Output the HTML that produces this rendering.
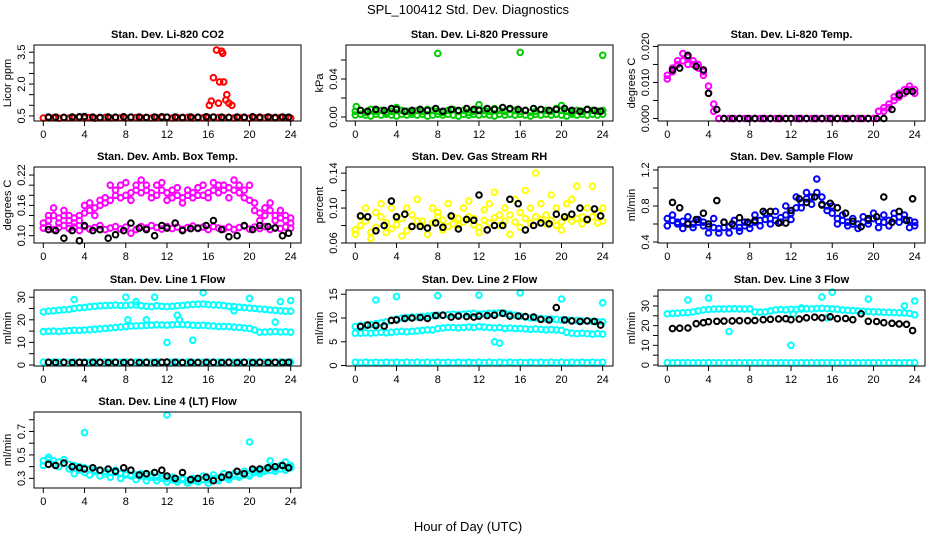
<!DOCTYPE html>
<html><head><meta charset="utf-8"><style>
body{margin:0;background:#fff}
svg{display:block;font-family:"Liberation Sans",sans-serif}
</style></head><body>
<svg id="c" width="936" height="540" viewBox="0 0 936 540">
<rect width="936" height="540" fill="#fff"/>
<text x="468" y="14" text-anchor="middle" font-size="13">SPL_100412  Std. Dev. Diagnostics</text>
<text x="468" y="531" text-anchor="middle" font-size="13">Hour of Day (UTC)</text>
</svg>
<script>
const HALF=[0,0.5,1,1.5,2,2.5,3,3.5,4,4.5,5,5.5,6,6.5,7,7.5,8,8.5,9,9.5,10,10.5,11,11.5,12,12.5,13,13.5,14,14.5,15,15.5,16,16.5,17,17.5,18,18.5,19,19.5,20,20.5,21,21.5,22,22.5,23,23.5,24];
const HOURLY=[0.5,1.2,2,2.8,3.5,4,4.8,5.5,6.3,7,7.8,8.5,9.3,10,10.8,11.5,12,12.8,13.5,14.3,15,15.8,16.5,17.3,18,18.8,19.5,20.3,21,21.8,22.5,23.2,23.8];
const X_TICKS=[0,4,8,12,16,20,24];

const co2Red=[0.40,0.42,0.41,0.39,0.43,0.40,0.41,0.44,0.40,0.42,0.39,0.41,0.43,0.40,0.42,0.41,0.40,0.44,0.42,0.41,0.43,0.40,0.42,0.41,0.44,0.40,0.42,0.41,0.43,0.40,0.42,0.41,0.43,0.44,0.42,0.41,0.43,0.40,0.42,0.41,0.39,0.42,0.40,0.41,0.43,0.40,0.42,0.41,0.39];
const co2OutH=[16.1,16.3,16.5,16.8,17.0,17.1,17.3,17.4,17.5,17.7,17.8,18.0,18.3];
const co2OutV=[1.0,1.2,2.3,3.6,1.1,2.1,3.55,3.45,2.1,1.25,1.5,1.1,1.0];
const co2Black=[0.45,0.44,0.43,0.45,0.46,0.47,0.44,0.43,0.45,0.44,0.46,0.44,0.45,0.43,0.45,0.46,0.44,0.45,0.43,0.45,0.44,0.46,0.45,0.44,0.43,0.45,0.44,0.46,0.44,0.45,0.43,0.45,0.44];
const presG1=[0.006,0.007,0.005,0.008,0.006,0.007,0.005,0.006,0.009,0.007,0.006,0.005,0.007,0.006,0.008,0.007,0.006,0.005,0.007,0.008,0.006,0.007,0.005,0.006,0.008,0.007,0.006,0.009,0.007,0.006,0.008,0.007,0.006,0.007,0.005,0.006,0.008,0.007,0.006,0.009,0.007,0.006,0.005,0.007,0.006,0.008,0.007,0.006,0.007];
const presG2=[0.002,0.003,0.002,0.001,0.003,0.002,0.003,0.002,0.001,0.003,0.002,0.003,0.002,0.003,0.001,0.002,0.003,0.002,0.003,0.002,0.001,0.003,0.002,0.003,0.002,0.003,0.002,0.001,0.003,0.002,0.003,0.002,0.003,0.002,0.001,0.003,0.002,0.003,0.002,0.003,0.002,0.001,0.003,0.002,0.003,0.002,0.003,0.002,0.003];
const presOutH=[0.1,4,8,12,16,20,24];
const presOutV=[0.011,0.010,0.067,0.013,0.068,0.012,0.065];
const presBlack=[0.007,0.006,0.008,0.007,0.009,0.008,0.006,0.007,0.008,0.007,0.009,0.006,0.008,0.007,0.009,0.008,0.007,0.009,0.008,0.010,0.009,0.008,0.007,0.009,0.008,0.007,0.008,0.009,0.007,0.006,0.008,0.007,0.006];
const tempM1=[0.012,0.014,0.016,0.018,0.017,0.016,0.015,0.013,0.009,0.004,0,0,0,0,0,0,0,0,0,0,0,0,0,0,0,0,0,0,0,0,0,0,0,0,0,0,0,0,0,0,0,0.002,0.003,0.004,0.006,0.007,0.008,0.009,0.008];
const tempM2=[0.011,0.013,0.015,0.016,0.015,0.015,0.014,0.012,0.007,0.002,0,0,0,0,0,0,0,0,0,0,0,0,0,0,0,0,0,0,0,0,0,0,0,0,0,0,0,0,0,0,0,0.002,0.002,0.003,0.005,0.006,0.007,0.008,0.007];
const tempBlack=[0.0135,0.014,0.0175,0.0145,0.0135,0.007,0.0025,0,0,0,0,0,0,0,0,0,0,0,0,0,0,0,0,0,0,0,0,0,0,0.0025,0.0065,0.0075,0.0075];
const ambU1=[0.125,0.13,0.14,0.135,0.14,0.13,0.135,0.14,0.145,0.15,0.155,0.16,0.165,0.17,0.18,0.175,0.18,0.185,0.19,0.185,0.19,0.185,0.18,0.19,0.185,0.175,0.18,0.175,0.18,0.185,0.18,0.18,0.185,0.19,0.185,0.19,0.195,0.19,0.185,0.175,0.17,0.15,0.145,0.14,0.15,0.14,0.135,0.13,0.125];
const ambU2=[0.115,0.14,0.155,0.125,0.15,0.14,0.125,0.13,0.16,0.165,0.14,0.17,0.175,0.2,0.19,0.2,0.205,0.17,0.2,0.21,0.2,0.175,0.2,0.205,0.17,0.19,0.195,0.165,0.19,0.175,0.195,0.2,0.175,0.205,0.2,0.2,0.175,0.21,0.2,0.19,0.2,0.165,0.13,0.155,0.165,0.13,0.15,0.14,0.135];
const ambL=[0.115,0.118,0.112,0.116,0.12,0.114,0.117,0.11,0.118,0.113,0.116,0.12,0.112,0.115,0.118,0.113,0.117,0.105,0.112,0.118,0.115,0.12,0.116,0.113,0.118,0.114,0.117,0.112,0.116,0.119,0.114,0.117,0.112,0.118,0.115,0.113,0.117,0.112,0.116,0.119,0.113,0.117,0.114,0.118,0.112,0.116,0.114,0.117,0.115];
const ambBlack=[0.112,0.11,0.095,0.11,0.09,0.12,0.11,0.112,0.095,0.102,0.11,0.125,0.115,0.112,0.1,0.12,0.115,0.125,0.11,0.114,0.115,0.12,0.13,0.112,0.098,0.1,0.12,0.112,0.12,0.118,0.115,0.1,0.105];
const rhY1=[0.075,0.08,0.085,0.072,0.078,0.09,0.083,0.076,0.081,0.088,0.074,0.079,0.085,0.08,0.077,0.083,0.09,0.086,0.079,0.082,0.088,0.084,0.09,0.081,0.078,0.086,0.083,0.089,0.08,0.085,0.092,0.084,0.078,0.088,0.083,0.09,0.087,0.082,0.086,0.08,0.084,0.09,0.085,0.088,0.082,0.086,0.09,0.083,0.085];
const rhY2=[0.07,0.09,0.1,0.065,0.095,0.105,0.072,0.1,0.088,0.068,0.1,0.092,0.11,0.085,0.07,0.1,0.095,0.075,0.105,0.09,0.08,0.1,0.108,0.088,0.072,0.098,0.105,0.118,0.092,0.1,0.07,0.11,0.095,0.12,0.1,0.14,0.105,0.092,0.115,0.1,0.075,0.105,0.11,0.125,0.09,0.1,0.125,0.095,0.1];
const rhBlack=[0.091,0.09,0.074,0.08,0.108,0.09,0.093,0.079,0.079,0.077,0.083,0.078,0.091,0.076,0.087,0.086,0.115,0.075,0.08,0.08,0.11,0.105,0.075,0.08,0.083,0.082,0.093,0.09,0.093,0.1,0.087,0.099,0.091];
const flowB1=[0.66,0.64,0.62,0.63,0.61,0.6,0.62,0.58,0.57,0.56,0.55,0.56,0.57,0.58,0.56,0.58,0.6,0.62,0.64,0.65,0.66,0.64,0.67,0.7,0.72,0.78,0.84,0.88,0.9,0.95,0.82,0.8,0.72,0.66,0.64,0.62,0.6,0.6,0.62,0.64,0.66,0.63,0.62,0.64,0.66,0.68,0.65,0.64,0.62];
const flowB2=[0.58,0.7,0.6,0.55,0.68,0.56,0.65,0.62,0.5,0.66,0.5,0.62,0.5,0.64,0.52,0.62,0.55,0.7,0.58,0.72,0.6,0.74,0.62,0.8,0.65,0.9,0.78,0.95,0.82,1.1,0.9,0.75,0.8,0.6,0.7,0.58,0.66,0.55,0.68,0.6,0.72,0.56,0.7,0.58,0.72,0.62,0.7,0.56,0.58];
const flowBlack=[0.84,0.78,0.6,0.65,0.72,0.6,0.86,0.62,0.6,0.67,0.62,0.64,0.74,0.74,0.61,0.61,0.75,0.88,0.84,0.9,0.81,0.83,0.78,0.72,0.63,0.57,0.66,0.68,0.9,0.62,0.74,0.64,0.88];
const l1U=[23.5,23.8,24,24.2,24.5,24.6,25,25.3,25.5,25.8,26,26.2,26.3,26.4,26.5,26.3,26.4,26.5,26.6,26.2,26,25.8,26.2,26,25.8,26,26.2,26.4,26.6,26.8,26.9,27,26.8,26.6,26.5,26.3,26,25.8,25.6,25.4,25.2,25,24.8,24.6,24.4,24.2,24,23.8,23.8];
const l1M=[14.8,14.9,15,14.8,15,15.2,15.4,15.3,15.5,15.6,15.8,16,16.2,16.4,16.6,16.8,17,17.2,17.3,17.4,17.5,17.6,17.8,17.7,17.6,17.8,18,17.9,17.8,17.6,17.5,17.6,17.4,17.2,17,17.1,17,16.8,16.6,16.4,16.2,15.5,14.5,14.6,14.7,14.8,14.6,14.7,14.5];
const l1L=[1.3,1.2,1.3,1.2,1.3,1.2,1.3,1.2,1.3,1.2,1.3,1.2,1.3,1.2,1.3,1.2,1.3,1.2,1.3,1.2,1.3,1.2,1.3,1.2,1.3,1.2,1.3,1.2,1.3,1.2,1.3,1.2,1.3,1.2,1.3,1.2,1.3,1.2,1.3,1.2,1.3,1.2,1.3,1.2,1.3,1.2,1.3,1.2,1.3];
const l1OutH=[3,8,8.2,9,10,10.8,12,13,13.2,14.5,15.5,18.5,20,22.5,23,24];
const l1OutV=[29,30,20,28,20,30,10,22,20,11,32,24,29.5,19,28,28.5];
const l1Black=[1.2,1.1,1.2,1.1,1.2,1.1,1.2,1.2,1.1,1.2,1.1,1.2,1.1,1.2,1.1,1.2,1.3,1.2,1.1,1.2,1.1,1.2,1.2,1.1,1.2,1.1,1.2,1.1,1.2,1.1,1.2,1.1,1.2];
const l2U=[8.2,8.4,8.5,8.6,8.8,9,9.2,9.5,9.8,10,10.1,10.2,10.2,10.3,10.4,10.5,10.6,10.6,10.7,10.8,10.7,10.8,10.9,11,10.8,10.9,11,11,11.1,11,10.8,10.6,10.4,10.2,10,10,9.9,9.8,9.8,9.7,9.6,9.6,9.5,9.5,9.4,9.4,9.3,9.2,9.2];
const l2M=[6.8,6.8,6.9,6.8,6.9,7,6.9,7,7.1,7.2,7.1,7.2,7.3,7.4,7.5,7.5,7.8,7.9,8,8,7.9,8,8.1,8,8.2,8.1,8,7.9,8,7.8,7.9,7.8,7.8,7.7,7.6,7.7,7.6,7.5,7.6,7.5,7.4,7,6.8,6.7,6.8,6.7,6.6,6.7,6.6];
const l2L=[0.7,0.6,0.7,0.6,0.7,0.6,0.7,0.6,0.7,0.6,0.7,0.6,0.7,0.6,0.7,0.6,0.7,0.6,0.7,0.6,0.7,0.6,0.7,0.6,0.7,0.6,0.7,0.6,0.7,0.6,0.7,0.6,0.7,0.6,0.7,0.6,0.7,0.6,0.7,0.6,0.7,0.6,0.7,0.6,0.7,0.6,0.7,0.6,0.7];
const l2OutH=[2,4,8,12,13.5,14,16,20,24];
const l2OutV=[13.8,14.5,14.7,14.8,5,4.7,15.3,14,13.2];
const l2Black=[8.2,8.5,8.4,8.3,9.5,9.6,9.9,10,10.1,9.9,10.5,10.6,10.2,10.4,10.3,10.2,10.4,10.5,10.6,11,10.4,10.4,10.3,10.2,9.7,9.6,12.2,9.6,9.4,9.3,9.4,9.3,8.5];
const l3U=[26,26.2,26.3,26.5,26.6,27,27.5,28,28.2,28.4,28.5,28.4,28.5,28.6,28.5,28.4,28.5,27,26.8,27,27.5,28,28.2,28,28.3,28.2,28.4,28.6,28.5,28.7,28.8,28.6,28.5,28.3,28,27.8,27.6,27.5,27.3,27.2,27,27,26.8,26.7,26.6,26.5,26.4,26.2,25.5];
const l3L=[1.2,1.1,1.2,1.1,1.2,1.1,1.2,1.1,1.2,1.1,1.2,1.1,1.2,1.1,1.2,1.1,1.2,1.1,1.2,1.1,1.2,1.1,1.2,1.1,1.2,1.1,1.2,1.1,1.2,1.1,1.2,1.1,1.2,1.1,1.2,1.1,1.2,1.1,1.2,1.1,1.2,1.1,1.2,1.1,1.2,1.1,1.2,1.1,1.2];
const l3OutH=[2,4,6,12,12.2,13,15,15.5,16,19.5,23,24];
const l3OutV=[33,34,17,10,26,29,34.5,24,37,33.5,30,32.5];
const l3Black=[18.5,18.7,18.8,21,21.5,22,22.2,22.3,22.4,22.5,22.5,22.6,23,23.2,23.4,23.5,23,23.3,24,24.3,24,24.5,23.5,23.6,23,26,22.2,22.1,21.5,21.2,20.9,20.7,17.5];
const l4C1=[0.45,0.46,0.45,0.44,0.43,0.42,0.41,0.4,0.39,0.38,0.37,0.37,0.36,0.35,0.35,0.34,0.34,0.33,0.33,0.32,0.32,0.31,0.31,0.3,0.3,0.29,0.29,0.29,0.28,0.28,0.28,0.29,0.29,0.3,0.3,0.31,0.31,0.32,0.33,0.33,0.34,0.35,0.36,0.36,0.37,0.38,0.38,0.39,0.39];
const l4C2=[0.41,0.48,0.42,0.4,0.46,0.38,0.34,0.37,0.35,0.33,0.36,0.32,0.34,0.31,0.37,0.3,0.33,0.32,0.29,0.34,0.28,0.33,0.28,0.32,0.27,0.31,0.27,0.3,0.26,0.3,0.27,0.32,0.26,0.33,0.28,0.34,0.29,0.34,0.31,0.36,0.32,0.37,0.34,0.38,0.4,0.36,0.41,0.37,0.41];
const l4OutH=[4,12,20,22,23.5];
const l4OutV=[0.69,0.84,0.61,0.45,0.44];
const l4Black=[0.42,0.41,0.43,0.4,0.39,0.38,0.39,0.37,0.38,0.36,0.39,0.37,0.33,0.34,0.35,0.37,0.32,0.3,0.35,0.29,0.3,0.31,0.28,0.31,0.33,0.36,0.34,0.38,0.38,0.39,0.4,0.41,0.39];

const panels=[
 {title:"Stan. Dev. Li-820 CO2",ylab:"Licor ppm",col:0,row:0,ymin:0.26,ymax:3.84,ticks:[0.5,1,1.5,2,2.5,3,3.5],labels:[[0.5,"0.5"],[2,"2.0"],[3.5,"3.5"]],
  series:[[HALF,co2Red,"#f00"],[co2OutH,co2OutV,"#f00"],[HOURLY,co2Black,"#000"]]},
 {title:"Stan. Dev. Li-820 Pressure",ylab:"kPa",col:1,row:0,ymin:-0.0042,ymax:0.0758,ticks:[0,0.02,0.04,0.06],labels:[[0,"0.00"],[0.04,"0.04"]],
  series:[[HALF,presG1,"#0c0"],[HALF,presG2,"#0c0"],[presOutH,presOutV,"#0c0"],[HOURLY,presBlack,"#000"]]},
 {title:"Stan. Dev. Li-820 Temp.",ylab:"degrees C",col:2,row:0,ymin:-0.0007,ymax:0.0204,ticks:[0,0.005,0.01,0.015,0.02],labels:[[0,"0.000"],[0.01,"0.010"],[0.02,"0.020"]],
  series:[[HALF,tempM1,"#f0f"],[HALF,tempM2,"#f0f"],[HOURLY,tempBlack,"#000"]]},
 {title:"Stan. Dev. Amb. Box Temp.",ylab:"degrees C",col:0,row:1,ymin:0.0855,ymax:0.236,ticks:[0.1,0.12,0.14,0.16,0.18,0.2,0.22],labels:[[0.1,"0.10"],[0.16,"0.16"],[0.22,"0.22"]],
  series:[[HALF,ambU1,"#f0f"],[HALF,ambU2,"#f0f"],[HALF,ambL,"#f0f"],[HOURLY,ambBlack,"#000"]]},
 {title:"Stan. Dev. Gas Stream RH",ylab:"percent",col:1,row:1,ymin:0.06,ymax:0.147,ticks:[0.06,0.08,0.1,0.12,0.14],labels:[[0.06,"0.06"],[0.1,"0.10"],[0.14,"0.14"]],
  series:[[HALF,rhY1,"#ff0"],[HALF,rhY2,"#ff0"],[HOURLY,rhBlack,"#000"]]},
 {title:"Stan. Dev. Sample Flow",ylab:"ml/min",col:2,row:1,ymin:0.389,ymax:1.233,ticks:[0.4,0.6,0.8,1,1.2],labels:[[0.4,"0.4"],[0.8,"0.8"],[1.2,"1.2"]],
  series:[[HALF,flowB1,"#00f"],[HALF,flowB2,"#00f"],[HOURLY,flowBlack,"#000"]]},
 {title:"Stan. Dev. Line 1 Flow",ylab:"ml/min",col:0,row:2,ymin:-0.44,ymax:33.2,ticks:[0,5,10,15,20,25,30],labels:[[0,"0"],[10,"10"],[20,"20"],[30,"30"]],
  series:[[HALF,l1U,"#0ff"],[HALF,l1M,"#0ff"],[HALF,l1L,"#0ff"],[l1OutH,l1OutV,"#0ff"],[HOURLY,l1Black,"#000"]]},
 {title:"Stan. Dev. Line 2 Flow",ylab:"ml/min",col:1,row:2,ymin:-0.1,ymax:15.9,ticks:[0,5,10,15],labels:[[0,"0"],[5,"5"],[10,"10"],[15,"15"]],
  series:[[HALF,l2U,"#0ff"],[HALF,l2M,"#0ff"],[HALF,l2L,"#0ff"],[l2OutH,l2OutV,"#0ff"],[HOURLY,l2Black,"#000"]]},
 {title:"Stan. Dev. Line 3 Flow",ylab:"ml/min",col:2,row:2,ymin:-0.5,ymax:38.1,ticks:[0,5,10,15,20,25,30,35],labels:[[0,"0"],[10,"10"],[20,"20"],[30,"30"]],
  series:[[HALF,l3U,"#0ff"],[HALF,l3L,"#0ff"],[l3OutH,l3OutV,"#0ff"],[HOURLY,l3Black,"#000"]]},
 {title:"Stan. Dev. Line 4 (LT) Flow",ylab:"ml/min",col:0,row:3,ymin:0.218,ymax:0.866,ticks:[0.3,0.4,0.5,0.6,0.7,0.8],labels:[[0.3,"0.3"],[0.5,"0.5"],[0.7,"0.7"]],
  series:[[HALF,l4C1,"#0ff"],[HALF,l4C2,"#0ff"],[l4OutH,l4OutV,"#0ff"],[HOURLY,l4Black,"#000"]]}
];

const NS="http://www.w3.org/2000/svg";
const svg=document.getElementById('c');
const ROWTOP=[45,167,290,412], H=76, COLOFF=[0,312,624];
function mk(tag,attrs,parent){const e=document.createElementNS(NS,tag);for(const k in attrs)e.setAttribute(k,attrs[k]);parent.appendChild(e);return e;}
panels.forEach((p,pi)=>{
  const ox=COLOFF[p.col], top=ROWTOP[p.row], bot=top+H, left=34+ox, right=301+ox;
  const xs=h=>43.3+ox+h*(247.4/24);
  const ys=v=>bot-(v-p.ymin)/(p.ymax-p.ymin)*H;
  const g=mk('g',{},svg);
  
  
  const t=mk('text',{x:(left+right)/2,y:top-7,'text-anchor':'middle','font-size':11,'font-weight':'bold'},g);
  t.textContent=p.title;
  
  
  const yl=mk('text',{x:0,y:0,'text-anchor':'middle','font-size':11,transform:`translate(${ox+11},${(top+bot)/2}) rotate(-90)`},g);
  yl.textContent=p.ylab;
  
  
  const pg=mk('g',{fill:'none','stroke-width':2},g);
  
  
  p.series.forEach(s=>{
    const n=Math.min(s[0].length,s[1].length);
    for(let i=0;i<n;i++){
      const c=mk('circle',{cx:xs(s[0][i]).toFixed(1),cy:ys(s[1][i]).toFixed(1),r:2.8,stroke:s[2]},pg);
      
      
    }
  });
  const box=mk('rect',{x:left,y:top,width:right-left,height:H,fill:'none',stroke:'#000','stroke-width':1},g);
  
  
  const xa=mk('g',{stroke:'#000','stroke-width':1},g);
  
  
  mk('line',{x1:xs(0),x2:xs(24),y1:bot,y2:bot},xa);
  X_TICKS.forEach(h=>{
    mk('line',{x1:xs(h),x2:xs(h),y1:bot,y2:bot+5},xa);
    const tl=mk('text',{x:xs(h),y:bot+17,'text-anchor':'middle','font-size':11,stroke:'none',fill:'#000'},xa);
    tl.textContent=h;
    
    
  });
  const ya=mk('g',{stroke:'#000','stroke-width':1},g);
  
  
  mk('line',{x1:left,x2:left,y1:ys(p.ticks[0]),y2:ys(p.ticks[p.ticks.length-1])},ya);
  p.ticks.forEach(v=>{mk('line',{x1:left-5,x2:left,y1:ys(v),y2:ys(v)},ya);});
  p.labels.forEach(l=>{
    const tl=mk('text',{x:0,y:0,'text-anchor':'middle','font-size':11,stroke:'none',fill:'#000',transform:`translate(${left-9},${ys(l[0])}) rotate(-90)`},ya);
    tl.textContent=l[1];
    
    
  });
});
</script>
</body></html>
